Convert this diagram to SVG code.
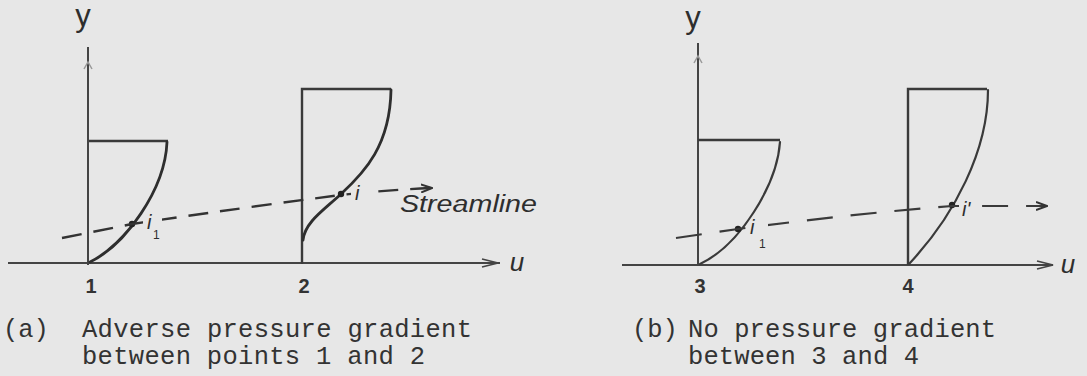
<svg xmlns="http://www.w3.org/2000/svg" width="1087" height="376" viewBox="0 0 1087 376">
<style>
.ax{stroke:#444;stroke-width:2;fill:none}
.box{stroke:#3a3a3a;stroke-width:2.4;fill:none}
.prof{stroke:#2e2e2e;stroke-width:2.8;fill:none;stroke-linecap:round}
.prof2{stroke:#3a3a3a;stroke-width:2.2;fill:none;stroke-linecap:round}
.dashA{stroke:#333;stroke-width:2.4;fill:none;stroke-dasharray:20 12}
.dashB{stroke:#3a3a3a;stroke-width:2.2;fill:none;stroke-dasharray:26 18}
.hw{font-family:"Liberation Sans","DejaVu Sans",sans-serif;fill:#2e2e2e}
.num{font-family:"Liberation Sans","DejaVu Sans",sans-serif;font-weight:bold;font-size:20px;fill:#333;text-anchor:middle}
.cap{font-family:"Liberation Mono","DejaVu Sans Mono",monospace;font-size:25.5px;fill:#333}
.dot{fill:#222}
</style>
<defs>
<marker id="ah" viewBox="0 0 12 10" refX="11" refY="5" markerWidth="12" markerHeight="10" markerUnits="userSpaceOnUse" orient="auto">
<path d="M0,1 L11,5 L0,9" fill="none" stroke="#333" stroke-width="2"/>
</marker>
<mask id="lblgap" maskUnits="userSpaceOnUse" x="0" y="0" width="1087" height="376">
<rect x="0" y="0" width="1087" height="376" fill="#fff"/>
<rect x="143" y="204" width="19" height="38" fill="#000"/>
<rect x="351" y="178" width="17" height="26" fill="#000"/>
<rect x="746" y="206" width="22" height="44" fill="#000"/>
<rect x="959" y="190" width="20" height="30" fill="#000"/>
</mask>
</defs>
<rect width="1087" height="376" fill="#e7e7e7"/>

<g id="panel-a-axes">
<line class="ax" x1="88" y1="47" x2="88" y2="265"/>
<path d="M84,69 L88,62 L92,69" fill="none" stroke="#999" stroke-width="1.5"/>
<line class="ax" x1="8" y1="263" x2="500" y2="263"/>
<path d="M482,259 L498,263 L482,267" fill="none" stroke="#444" stroke-width="1.8"/>
<text class="hw" x="83" y="26" font-size="31" text-anchor="middle">y</text>
<text class="hw" x="517" y="271" font-size="26" font-style="italic" text-anchor="middle">u</text>
</g>

<g id="profile-1">
<polyline class="box" points="89,141 168,141"/>
<path class="prof" d="M167,142 C165,190 125,245 90,262"/>
<circle class="dot" cx="132" cy="224" r="3.2"/>
<text class="hw" x="147" y="229" font-size="20" font-style="italic">i</text>
<text class="hw" x="153" y="239" font-size="12">1</text>
<text class="num" x="91" y="293">1</text>
</g>

<g id="profile-2">
<polyline class="box" points="302,264 302,89 391,89"/>
<path class="prof" d="M391,90 C390,145 365,172 341,194 C324,210 305,222 303,240"/>
<circle class="dot" cx="341" cy="194" r="3.2"/>
<text class="hw" x="355" y="200" font-size="20" font-style="italic">i</text>
<text class="num" x="304" y="293">2</text>
</g>

<g id="panel-b-axes">
<line class="ax" x1="698" y1="43" x2="698" y2="265"/>
<path d="M694,63 L698,56 L702,63" fill="none" stroke="#999" stroke-width="1.5"/>
<line class="ax" x1="622" y1="265" x2="1053" y2="265"/>
<path d="M1037,261 L1053,265 L1037,269" fill="none" stroke="#444" stroke-width="1.8"/>
<text class="hw" x="693" y="28" font-size="31" text-anchor="middle">y</text>
<text class="hw" x="1068" y="273" font-size="26" font-style="italic" text-anchor="middle">u</text>
</g>

<g id="profile-3">
<polyline class="box" points="698,140 780,140"/>
<path class="prof2" d="M780,142 C777,185 740,245 700,264"/>
<circle class="dot" cx="738" cy="229" r="3.2"/>
<text class="hw" x="750" y="234" font-size="20" font-style="italic">i</text>
<text class="hw" x="759" y="248" font-size="12">1</text>
<text class="num" x="700" y="293">3</text>
</g>

<g id="profile-4">
<polyline class="box" points="908,265 908,89 987,89"/>
<path class="prof2" d="M988,90 C988,150 955,215 909,264"/>
<circle class="dot" cx="952" cy="205" r="3.2"/>
<text class="hw" x="962" y="216" font-size="20" font-style="italic">i'</text>
<text class="num" x="908" y="293">4</text>
</g>

<g id="connectors" mask="url(#lblgap)">
<path class="dashA" d="M62,238 L132,224 Q240,208 341,195 Q385,190 432,188" marker-end="url(#ah)"/>
<path class="dashB" d="M676,238 L738,229 Q850,214 952,206 L1047,206" marker-end="url(#ah)"/>
</g>

<g id="streamline-label">
<text class="hw" x="400" y="212" font-size="23" font-style="italic" textLength="137" lengthAdjust="spacingAndGlyphs">Streamline</text>
</g>

<g id="captions">
<text class="cap" x="3" y="337">(a)</text>
<text class="cap" x="82" y="337" textLength="390" lengthAdjust="spacing">Adverse pressure gradient</text>
<text class="cap" x="82" y="364" textLength="343" lengthAdjust="spacing">between points 1 and 2</text>
<text class="cap" x="632" y="337">(b)</text>
<text class="cap" x="688" y="337" textLength="308" lengthAdjust="spacing">No pressure gradient</text>
<text class="cap" x="688" y="364" textLength="231" lengthAdjust="spacing">between 3 and 4</text>
</g>
</svg>
